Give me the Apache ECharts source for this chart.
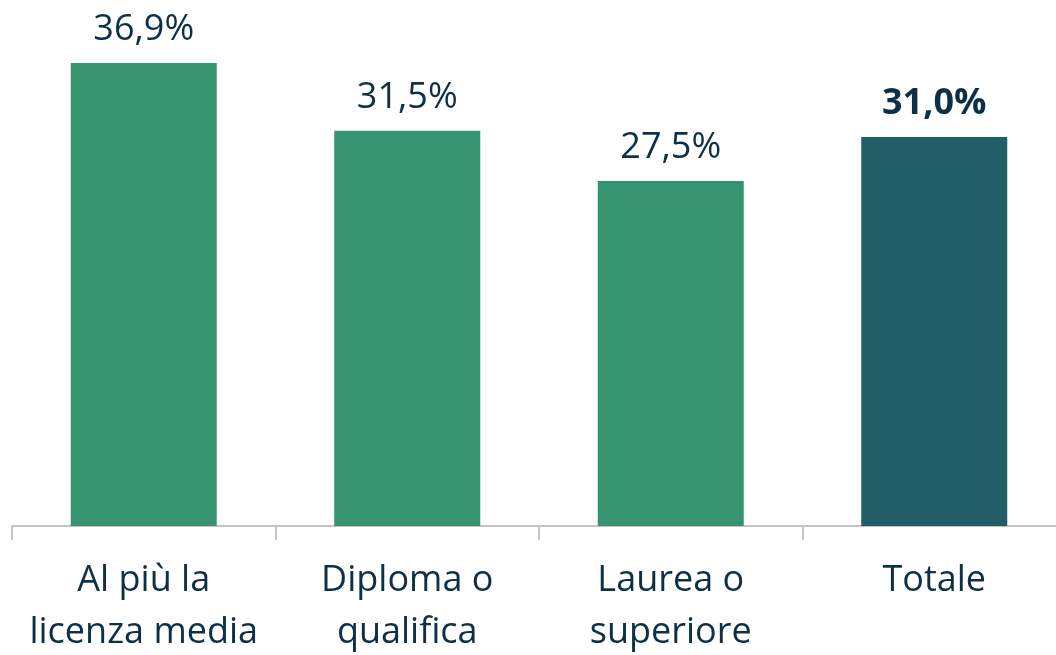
<!DOCTYPE html>
<html>
<head>
<meta charset="utf-8">
<script src="https://cdn.jsdelivr.net/npm/echarts@6/dist/echarts.min.js"></script>
<style>
  html, body { margin: 0; padding: 0; background: #fff; }
  #main { width: 1056px; height: 655px; }
</style>
</head>
<body>
<div id="main"></div>
<script>
// titolo di studio
var categories = ['Al più la\nlicenza media', 'Diploma o\nqualifica', 'Laurea o\nsuperiore', 'Totale'];
var values = [36.9, 31.5, 27.5, 31.0];
var barColors = ['#35946f', '#35946f', '#35946f', '#225e68'];

var textColor = '#0e3047';
var font = '"Open Sans", sans-serif';

var myChart = echarts.init(document.getElementById('main'));
myChart.setOption({
    backgroundColor: '#fff',
    animation: false,
    grid: { left: 12, width: 1054, top: 24, height: 502, containLabel: false, outerBoundsMode: 'none' },
    xAxis: {
        type: 'category',
        data: categories,
        axisLine: { lineStyle: { color: '#c4c4c4', width: 2 } },
        axisTick: { show: true, interval: 0, length: 14, lineStyle: { color: '#c4c4c4', width: 2 } },
        axisLabel: {
            color: textColor,
            fontFamily: font,
            fontSize: 36,
            lineHeight: 52,
            margin: 29,
            interval: 0
        }
    },
    yAxis: {
        type: 'value',
        min: 0,
        max: 40,
        show: false,
        splitLine: { show: false }
    },
    series: [{
        type: 'bar',
        barWidth: 146,
        data: values.map(function (v, i) {
            return {
                value: v,
                itemStyle: { color: barColors[i] },
                label: { fontWeight: i === 3 ? 'bold' : 'normal' }
            };
        }),
        label: {
            show: true,
            position: 'top',
            distance: 15,
            color: textColor,
            fontFamily: font,
            fontSize: 36,
            formatter: function (p) {
                return p.value.toFixed(1).replace('.', ',') + '%';
            }
        }
    }]
});
</script>
</body>
</html>
